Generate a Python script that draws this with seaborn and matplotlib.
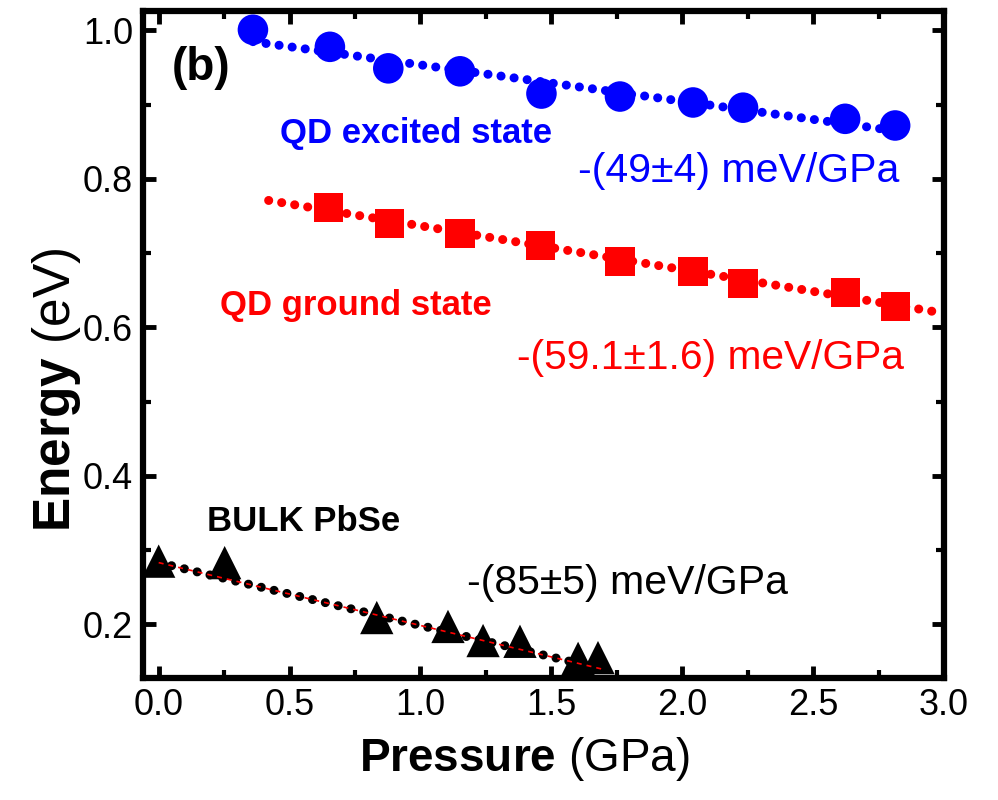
import matplotlib
matplotlib.use("Agg")
import matplotlib.pyplot as plt
import seaborn as sns
import pandas as pd
from matplotlib.ticker import MultipleLocator

# ---- data ----
exc_p = [0.36, 0.654, 0.877, 1.151, 1.462, 1.762, 2.041, 2.232, 2.622, 2.813]
exc_e = [1.001, 0.978, 0.949, 0.945, 0.915, 0.911, 0.903, 0.896, 0.881, 0.872]

gnd_p = [0.650, 0.883, 1.151, 1.457, 1.762, 2.041, 2.232, 2.622, 2.813]
gnd_e = [0.761, 0.740, 0.726, 0.710, 0.689, 0.675, 0.659, 0.647, 0.628]

bulk_p = [0.0, 0.252, 0.833, 1.105, 1.239, 1.380, 1.602, 1.678]
bulk_e = [0.285, 0.283, 0.209, 0.197, 0.178, 0.177, 0.154, 0.155]

# fitted lines (end points)
exc_fit_p = [0.36, 2.81]
exc_fit_e = [0.985, 0.865]
gnd_fit_p = [0.42, 3.0]
gnd_fit_e = [0.771, 0.619]
bulk_fit_p = [0.0, 1.70]
bulk_fit_e = [0.283, 0.139]

xticks = [0.0, 0.5, 1.0, 1.5, 2.0, 2.5, 3.0]
yticks = [0.2, 0.4, 0.6, 0.8, 1.0]

BLUE = "#0000ff"
RED = "#ff0000"

sns.set_theme(style="white")
plt.rcParams["font.family"] = ["Liberation Sans", "DejaVu Sans"]
plt.rcParams["mathtext.fontset"] = "custom"
plt.rcParams["mathtext.rm"] = "Liberation Sans"
plt.rcParams["mathtext.bf"] = "Liberation Sans:bold"

fig = plt.figure(figsize=(9.98, 8.0), dpi=100)
ax = fig.add_axes([0.143, 0.152, 0.803, 0.834])

dot = dict(linestyle=(0, (0.01, 1.45)), dash_capstyle="round", linewidth=6.5)

sns.lineplot(x=exc_fit_p, y=exc_fit_e, color=BLUE, ax=ax, **dot)
sns.lineplot(x=gnd_fit_p, y=gnd_fit_e, color=RED, ax=ax, **dot)
sns.lineplot(x=bulk_fit_p, y=bulk_fit_e, color="black", ax=ax, **dot)

sns.scatterplot(x=exc_p, y=exc_e, marker="o", s=22**2, color=BLUE, edgecolor="none", ax=ax, zorder=3)
sns.scatterplot(x=gnd_p, y=gnd_e, marker="s", s=21**2, color=RED, edgecolor="none", ax=ax, zorder=3)
sns.scatterplot(x=bulk_p, y=bulk_e, marker="^", s=24**2, color="black", edgecolor="none", ax=ax, zorder=3)

sns.lineplot(x=bulk_fit_p, y=bulk_fit_e, color=RED, ax=ax, linewidth=1.2,
             linestyle=(0, (3, 3)), zorder=4)

ax.set_xlim(-0.061, 3.0)
ax.set_ylim(0.127, 1.026)
ax.set_xticks(xticks)
ax.set_yticks(yticks)
ax.set_xticklabels([f"{v:.1f}" for v in xticks])
ax.set_yticklabels([f"{v:.1f}" for v in yticks])
ax.xaxis.set_minor_locator(MultipleLocator(0.25))
ax.yaxis.set_minor_locator(MultipleLocator(0.1))
ax.tick_params(which="both", direction="in", top=True, right=True, bottom=True, left=True,
               color="black")
ax.tick_params(which="major", length=9, width=3.5, labelsize=26, pad=7, labelcolor="black")
ax.tick_params(which="minor", length=6, width=3)
for s in ax.spines.values():
    s.set_visible(True)
    s.set_color("black")
    s.set_linewidth(4.5)

ax.set_xlabel(r"$\mathbf{Pressure}$ (GPa)", fontsize=33, color="black")
ax.set_ylabel(r"$\mathbf{Energy}$ (eV)", fontsize=37, color="black")
ax.xaxis.set_label_coords(0.476, -0.085)
ax.yaxis.set_label_coords(-0.074, 0.432)

ax.text(0.05, 0.950, "(b)", fontsize=33, fontweight="bold", color="black", ha="left", va="center")
ax.text(0.4625, 0.861, "QD excited state", fontsize=25, fontweight="bold", color=BLUE, ha="left", va="center")
ax.text(1.602, 0.811, "-(49±4) meV/GPa", fontsize=29.5, color=BLUE, ha="left", va="center")
ax.text(0.233, 0.629, "QD ground state", fontsize=25, fontweight="bold", color=RED, ha="left", va="center")
ax.text(1.368, 0.559, "-(59.1±1.6) meV/GPa", fontsize=29.3, color=RED, ha="left", va="center")
ax.text(0.183, 0.338, "BULK PbSe", fontsize=25, fontweight="bold", color="black", ha="left", va="center")
ax.text(1.177, 0.256, "-(85±5) meV/GPa", fontsize=29.5, color="black", ha="left", va="center")

fig.savefig("out.png", dpi=100, facecolor="white")
